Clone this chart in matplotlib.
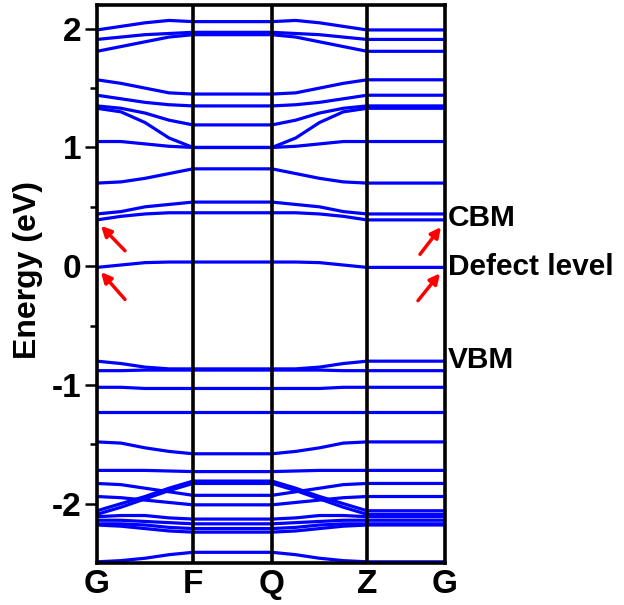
import numpy as np
import matplotlib
matplotlib.use("Agg")
import matplotlib.pyplot as plt

# --- Data ---
# high-symmetry points along the path (segment lengths)
kpoint_labels = ["G", "F", "Q", "Z", "G"]
kpoint_pos = [0, 96, 175, 270, 348]

# band energies (eV) along G -> F at 0, 1/4, 1/2, 3/4 and 1 of the segment;
# F-Q is flat, Q-Z mirrors G-F, Z-G is flat at the G value
conduction_bands = [
    [1.99, 2.02, 2.05, 2.07, 2.06],
    [1.91, 1.93, 1.95, 1.96, 1.97],
    [1.81, 1.85, 1.89, 1.93, 1.95],
    [1.57, 1.54, 1.50, 1.46, 1.45],
    [1.44, 1.41, 1.38, 1.36, 1.35],
    [1.35, 1.33, 1.29, 1.23, 1.19],
    [1.33, 1.30, 1.21, 1.08, 1.00],
    [1.05, 1.05, 1.03, 1.01, 1.00],
    [0.70, 0.71, 0.74, 0.78, 0.82],
    [0.44, 0.46, 0.50, 0.52, 0.54],
    [0.39, 0.42, 0.44, 0.45, 0.45],
]
defect_band = [-0.01, 0.01, 0.03, 0.035, 0.035]
valence_bands = [
    [-0.80, -0.82, -0.85, -0.865, -0.865],
    [-0.88, -0.88, -0.875, -0.875, -0.875],
    [-1.02, -1.02, -1.03, -1.03, -1.03],
    [-1.23, -1.23, -1.23, -1.23, -1.23],
    [-1.48, -1.49, -1.53, -1.56, -1.58],
    [-1.72, -1.72, -1.72, -1.725, -1.73],
    [-1.83, -1.84, -1.87, -1.90, -1.93],
    [-1.94, -1.95, -1.97, -1.99, -2.01],
    [-2.06, -2.00, -1.94, -1.87, -1.81],
    [-2.09, -2.03, -1.96, -1.89, -1.83],
    [-2.11, -2.10, -2.10, -2.12, -2.13],
    [-2.14, -2.14, -2.15, -2.16, -2.17],
    [-2.17, -2.17, -2.18, -2.20, -2.21],
    [-2.18, -2.19, -2.21, -2.23, -2.24],
    [-2.49, -2.48, -2.46, -2.43, -2.41],
]

# level labels and arrow positions (k, E)
level_names = ["CBM", "Defect level", "VBM"]
level_energy = [0.41, -0.01, -0.79]
arrow_heads = [(4, 0.34), (4, -0.05), (344, 0.33), (343, -0.06)]
arrow_tails = [(28, 0.13), (28, -0.28), (323, 0.10), (321, -0.29)]

plt.rcParams["font.family"] = ["Liberation Sans", "DejaVu Sans"]
plt.rcParams["font.weight"] = "bold"

fig = plt.figure(figsize=(6.24, 6.05), dpi=100)
ax = fig.add_axes([97 / 624, 42 / 605, 348 / 624, 558 / 605])

g, f, q, z, g2 = kpoint_pos
k_gf = np.linspace(g, f, 5)
k_qz = np.linspace(q, z, 5)
k_path = np.concatenate([k_gf, k_qz, [g2]])

for band in conduction_bands + [defect_band] + valence_bands:
    band = list(band)
    e_path = band + band[::-1] + [band[0]]
    ax.plot(k_path, e_path, color="#0000ff", lw=2.3, solid_joinstyle="miter")

for xv in kpoint_pos[1:-1]:
    ax.axvline(xv, color="black", lw=2.6, zorder=3)

for head, tail in zip(arrow_heads, arrow_tails):
    ax.annotate("", xy=head, xytext=tail,
                arrowprops=dict(arrowstyle="-|>", color="red", lw=2.5,
                                mutation_scale=15, shrinkA=0, shrinkB=0))

for name, e in zip(level_names, level_energy):
    ax.text(351, e, name, fontsize=21.5, fontweight="bold",
            va="center", ha="left", clip_on=False)

ax.set_xlim(kpoint_pos[0], kpoint_pos[-1])
ax.set_ylim(-2.5, 2.2)
ax.set_xticks(kpoint_pos)
ax.set_xticklabels(kpoint_labels, fontsize=24, fontweight="bold")
ax.set_yticks([-2, -1, 0, 1, 2])
ax.set_yticklabels(["-2", "-1", "0", "1", "2"], fontsize=24, fontweight="bold")
ax.set_yticks([-1.5, -0.5, 0.5, 1.5], minor=True)
ax.tick_params(axis="x", length=0, pad=4)
ax.tick_params(axis="y", which="major", direction="out", length=8.5, width=1.8, pad=3)
ax.tick_params(axis="y", which="minor", direction="out", length=5, width=1.8)
ax.set_ylabel("Energy (eV)", fontsize=23, fontweight="bold", va="center")
ax.yaxis.set_label_coords(-0.197, 0.525)

for spine in ax.spines.values():
    spine.set_linewidth(2.6)

plt.savefig("out.png", dpi=100)
